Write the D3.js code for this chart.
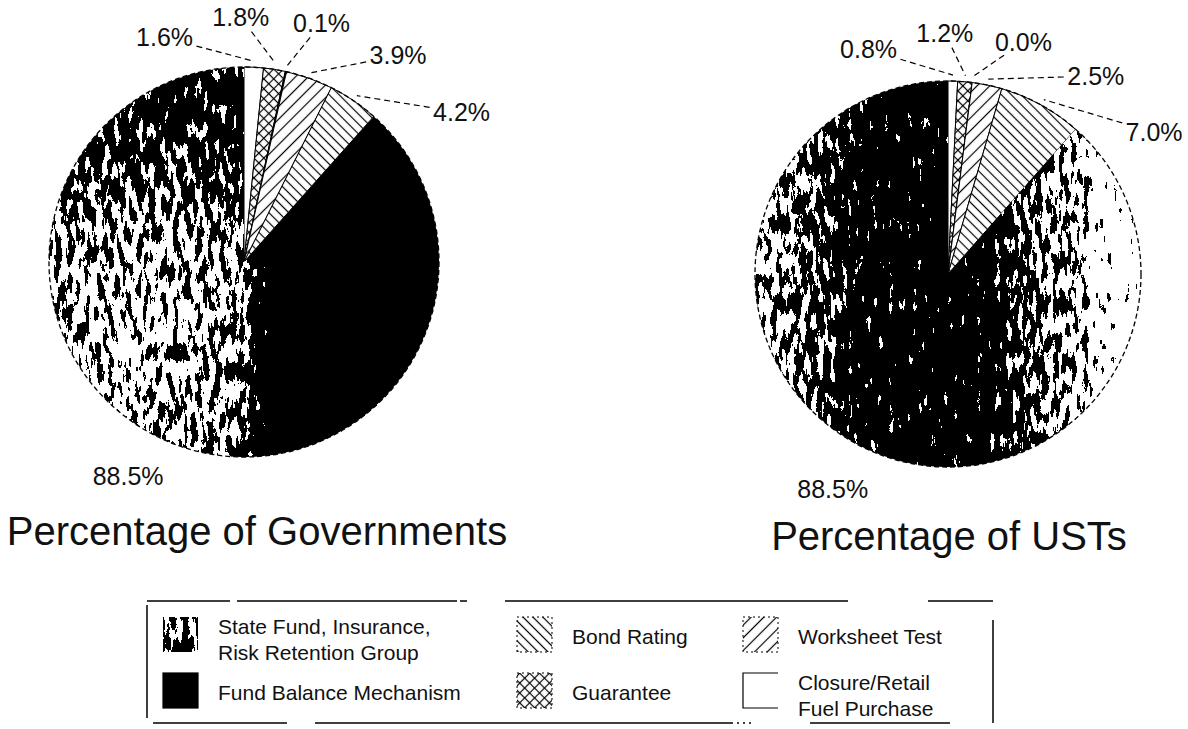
<!DOCTYPE html>
<html>
<head>
<meta charset="utf-8">
<script src="https://cdn.jsdelivr.net/npm/d3@7"></script>
<style>
  body { margin: 0; background: #fff; }
</style>
</head>
<body>
<script>
// slices in clockwise order from 12 o'clock
const pieOrder = [
  'Closure/Retail Fuel Purchase',
  'Guarantee',
  'Fund Balance Mechanism',
  'Worksheet Test',
  'Bond Rating',
  'State Fund, Insurance, Risk Retention Group'
];
const governmentsPct = [1.6, 1.8, 0.1, 3.9, 4.2, 88.5];
const ustsPct = [0.8, 1.2, 0.0, 2.5, 7.0, 88.5];
const pieTitles = ['Percentage of Governments', 'Percentage of USTs'];

// legend, column by column
const legendOrder = [
  'State Fund, Insurance, Risk Retention Group',
  'Fund Balance Mechanism',
  'Bond Rating',
  'Guarantee',
  'Worksheet Test',
  'Closure/Retail Fuel Purchase'
];
const legendLines = [
  ['State Fund, Insurance,', 'Risk Retention Group'],
  ['Fund Balance Mechanism'],
  ['Bond Rating'],
  ['Guarantee'],
  ['Worksheet Test'],
  ['Closure/Retail', 'Fuel Purchase']
];

const STATE = 'State Fund, Insurance, Risk Retention Group';
const FONT = '"Liberation Sans", Arial, Helvetica, sans-serif';

const svg = d3.select('body').append('svg')
  .attr('width', 1188)
  .attr('height', 729)
  .style('font-family', FONT);
const defs = svg.append('defs');

// line hatches
function hatch(id, angle, spacing, cross) {
  let p = defs.append('pattern')
    .attr('id', id)
    .attr('patternUnits', 'userSpaceOnUse')
    .attr('width', spacing)
    .attr('height', spacing)
    .attr('patternTransform', 'rotate(' + angle + ')');
  p.append('rect').attr('width', spacing).attr('height', spacing).attr('fill', '#fff');
  p.append('line')
    .attr('x1', spacing / 2).attr('y1', 0).attr('x2', spacing / 2).attr('y2', spacing)
    .attr('stroke', '#000').attr('stroke-width', 1.2);
  if (cross) {
    p.append('line')
      .attr('x1', 0).attr('y1', spacing / 2).attr('x2', spacing).attr('y2', spacing / 2)
      .attr('stroke', '#000').attr('stroke-width', 1.2);
  }
}
hatch('hatch-worksheet', 45, 9, false);
hatch('hatch-bond', -45, 7, false);
hatch('hatch-guarantee', 45, 7, true);

// speckled "scanned" texture: grey level of the source decides how much white shows
function grain(id, seed) {
  let f = defs.append('filter')
    .attr('id', id)
    .attr('x', 0).attr('y', 0).attr('width', 1).attr('height', 1)
    .attr('color-interpolation-filters', 'sRGB');
  f.append('feTurbulence')
    .attr('type', 'fractalNoise')
    .attr('baseFrequency', '0.17 0.05')
    .attr('numOctaves', 5)
    .attr('seed', seed)
    .attr('result', 'noise');
  f.append('feColorMatrix')
    .attr('in', 'noise')
    .attr('type', 'matrix')
    .attr('values', '1.9 0 0 0 -0.45  1.9 0 0 0 -0.45  1.9 0 0 0 -0.45  0 0 0 0 1')
    .attr('result', 'mono');
  f.append('feComposite')
    .attr('in', 'SourceGraphic').attr('in2', 'mono')
    .attr('operator', 'arithmetic')
    .attr('k1', 0).attr('k2', 1).attr('k3', 1).attr('k4', -0.55)
    .attr('result', 'sum');
  let ct = f.append('feComponentTransfer').attr('in', 'sum');
  ['feFuncR', 'feFuncG', 'feFuncB'].forEach(function (fn) {
    ct.append(fn).attr('type', 'discrete').attr('tableValues', '0 1');
  });
  ct.append('feFuncA').attr('type', 'linear').attr('slope', 0).attr('intercept', 1);
}
grain('grain-0', 7);
grain('grain-1', 23);
grain('grain-legend', 4);

function grey(v) {
  let c = Math.round(v * 255);
  return d3.rgb(c, c, c).toString();
}

const fillFor = {
  'Closure/Retail Fuel Purchase': '#fff',
  'Guarantee': 'url(#hatch-guarantee)',
  'Fund Balance Mechanism': '#000',
  'Worksheet Test': 'url(#hatch-worksheet)',
  'Bond Rating': 'url(#hatch-bond)'
};

// density maps for the stippled slice of each pie
function drawDensity(sel, pi, r) {
  if (pi === 0) {
    let rg = defs.append('radialGradient')
      .attr('id', 'dens-0')
      .attr('gradientUnits', 'userSpaceOnUse')
      .attr('cx', -104).attr('cy', 68).attr('r', 215);
    [[0, 0.7], [0.55, 0.56], [1, 0.28]].forEach(function (s) {
      rg.append('stop').attr('offset', s[0]).attr('stop-color', grey(s[1]));
    });
    let lg = defs.append('linearGradient')
      .attr('id', 'dark-0')
      .attr('gradientUnits', 'userSpaceOnUse')
      .attr('x1', -4).attr('y1', 0).attr('x2', 30).attr('y2', 0);
    lg.append('stop').attr('offset', 0).attr('stop-color', '#000').attr('stop-opacity', 0);
    lg.append('stop').attr('offset', 1).attr('stop-color', '#000').attr('stop-opacity', 1);
    sel.append('rect').attr('x', -r - 2).attr('y', -r - 2).attr('width', 2 * r + 4).attr('height', 2 * r + 4)
      .attr('fill', 'url(#dens-0)');
    sel.append('rect').attr('x', -r - 2).attr('y', -r - 2).attr('width', 2 * r + 4).attr('height', 2 * r + 4)
      .attr('fill', 'url(#dark-0)');
  } else {
    let lg = defs.append('linearGradient')
      .attr('id', 'dens-1')
      .attr('gradientUnits', 'userSpaceOnUse')
      .attr('x1', -r).attr('y1', 0).attr('x2', r).attr('y2', 0);
    [[0, 0.66], [0.09, 0.55], [0.19, 0.38], [0.27, 0.12], [0.6, 0.1], [0.69, 0.42],
     [0.76, 0.56], [0.84, 0.66], [0.89, 0.9], [0.93, 1.1]].forEach(function (s) {
      lg.append('stop').attr('offset', s[0]).attr('stop-color', grey(Math.min(1, s[1])));
    });
    sel.append('rect').attr('x', -r - 2).attr('y', -r - 2).attr('width', 2 * r + 4).attr('height', 2 * r + 4)
      .attr('fill', 'url(#dens-1)');
  }
}

const pieLayout = [
  { cx: 244, cy: 262, r: 195, labelStep: 6.5, titleX: 257, titleY: 545 },
  { cx: 948, cy: 274, r: 193, labelStep: 3, titleX: 949, titleY: 550 }
];
const pieValues = [governmentsPct, ustsPct];
const fmt = d3.format('.1f');
const deg = Math.PI / 180;

const pie = d3.pie().sort(null).value(function (d) { return d.value; });

pieValues.forEach(function (vals, pi) {
  let L = pieLayout[pi];
  let data = pie(pieOrder.map(function (c, i) { return { cat: c, value: vals[i] }; }));
  let arc = d3.arc().innerRadius(0).outerRadius(L.r);
  let g = svg.append('g').attr('transform', 'translate(' + L.cx + ',' + L.cy + ')');

  data.forEach(function (d) {
    if (d.data.cat === STATE) {
      let clipId = 'clip-' + pi;
      defs.append('clipPath').attr('id', clipId).append('path').attr('d', arc(d));
      let inner = g.append('g').attr('clip-path', 'url(#' + clipId + ')')
        .append('g').attr('filter', 'url(#grain-' + pi + ')');
      drawDensity(inner, pi, L.r);
    } else {
      g.append('path')
        .attr('d', arc(d))
        .attr('fill', fillFor[d.data.cat])
        .attr('stroke', '#000')
        .attr('stroke-width', 1);
    }
  });

  // outline
  g.append('circle')
    .attr('r', L.r)
    .attr('fill', 'none')
    .attr('stroke', '#000')
    .attr('stroke-width', 1.3)
    .attr('stroke-dasharray', '5 3');

  // labels of the small slices fan out above the pie
  let small = data.filter(function (d) { return d.data.cat !== STATE; });
  small.forEach(function (d, i) {
    let a = (-19.5 + 18.75 * i) * deg;
    let rl = 238 + L.labelStep * i;
    let lx = rl * Math.sin(a), ly = -rl * Math.cos(a);
    let mid = (d.startAngle + d.endAngle) / 2;
    let ex = (L.r + 6) * Math.sin(mid), ey = -(L.r + 6) * Math.cos(mid);
    let dx = ex - lx, dy = ey - ly, len = Math.hypot(dx, dy);
    let ux = dx / len, uy = dy / len;
    let t = Math.min(28 / Math.max(Math.abs(ux), 1e-6), 11 / Math.max(Math.abs(uy), 1e-6)) + 4;
    g.append('line')
      .attr('x1', lx + t * ux).attr('y1', ly + t * uy)
      .attr('x2', ex).attr('y2', ey)
      .attr('stroke', '#000')
      .attr('stroke-width', 1.2)
      .attr('stroke-dasharray', '6 4');
    g.append('text')
      .attr('x', lx).attr('y', ly)
      .attr('dy', '0.35em')
      .attr('text-anchor', 'middle')
      .attr('font-size', 25)
      .attr('fill', '#111')
      .text(fmt(d.data.value) + '%');
  });

  let big = data.find(function (d) { return d.data.cat === STATE; });
  let ba = (big.startAngle + big.endAngle) / 2 + 7.5 * deg;
  g.append('text')
    .attr('x', 244 * Math.sin(ba)).attr('y', -244 * Math.cos(ba))
    .attr('dy', '0.35em')
    .attr('text-anchor', 'middle')
    .attr('font-size', 25)
    .attr('fill', '#111')
    .text(fmt(big.data.value) + '%');

  svg.append('text')
    .attr('x', L.titleX).attr('y', L.titleY)
    .attr('text-anchor', 'middle')
    .attr('font-size', 40)
    .attr('fill', '#111')
    .text(pieTitles[pi]);
});

// legend frame, broken like the scan
const frame = svg.append('g').attr('stroke', '#000').attr('stroke-width', 1.5).attr('fill', 'none');
frame.append('line').attr('x1', 147).attr('y1', 601).attr('x2', 993).attr('y2', 601)
  .attr('stroke-dasharray', '83 7 220 3 7 38 343 80 65');
frame.append('line').attr('x1', 147).attr('y1', 605).attr('x2', 147).attr('y2', 718);
frame.append('line').attr('x1', 993).attr('y1', 620).attr('x2', 993).attr('y2', 723);
frame.append('line').attr('x1', 153).attr('y1', 723).attr('x2', 993).attr('y2', 723)
  .attr('stroke-dasharray', '134 28 418 4 2 4 2 4 2 59 140 100');

const legendCols = [163, 517, 743];
const legendRows = [637, 693];
const sw = 35;

legendOrder.forEach(function (cat, i) {
  let col = Math.floor(i / 2), row = i % 2;
  let x = legendCols[col], yc = legendRows[row];
  let top = yc - 20;
  if (cat === STATE) {
    defs.append('clipPath').attr('id', 'clip-legend').append('rect')
      .attr('x', x).attr('y', top).attr('width', sw).attr('height', sw);
    svg.append('g').attr('clip-path', 'url(#clip-legend)')
      .append('rect')
      .attr('x', x).attr('y', top).attr('width', sw).attr('height', sw)
      .attr('fill', grey(0.45))
      .attr('filter', 'url(#grain-legend)');
  } else {
    let r = svg.append('rect')
      .attr('x', x).attr('y', top).attr('width', sw).attr('height', sw)
      .attr('fill', fillFor[cat])
      .attr('stroke', '#000')
      .attr('stroke-width', 1.2);
    if (cat === 'Closure/Retail Fuel Purchase') {
      // open on the right side
      r.attr('stroke-dasharray', sw + ' ' + sw + ' ' + (2 * sw));
    } else if (cat !== 'Fund Balance Mechanism') {
      r.attr('stroke-dasharray', '2 3').attr('stroke-width', 1);
    }
  }
  let lines = legendLines[i];
  lines.forEach(function (t, k) {
    let y = lines.length === 1 ? yc : yc - 10 + 26 * k;
    svg.append('text')
      .attr('x', x + 55).attr('y', y)
      .attr('dy', '0.35em')
      .attr('font-size', 21)
      .attr('fill', '#111')
      .text(t);
  });
});
</script>
</body>
</html>
